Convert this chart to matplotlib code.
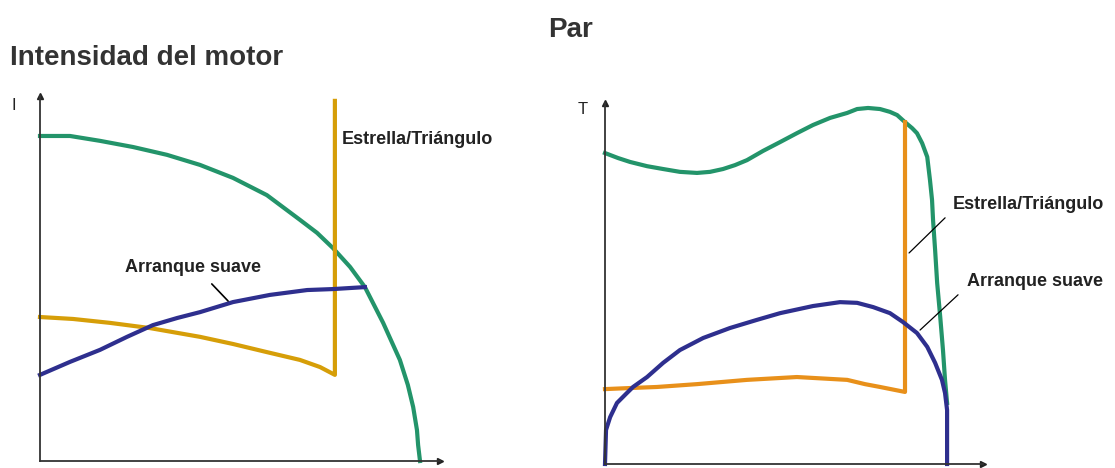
import matplotlib
matplotlib.use("Agg")
import matplotlib.pyplot as plt

# motor current (left), normalised speed / current
i_green_x = [0, 0.079, 0.158, 0.245, 0.334, 0.421, 0.508, 0.597, 0.684, 0.729, 0.771, 0.816, 0.855,
             0.903, 0.947, 0.968, 0.982, 0.992, 0.995, 1.0]
i_green_y = [1.0, 1.0, 0.985, 0.966, 0.942, 0.911, 0.871, 0.818, 0.742, 0.702, 0.655, 0.597, 0.535,
             0.425, 0.311, 0.234, 0.166, 0.095, 0.049, 0.0]
i_soft_x = [0, 0.079, 0.158, 0.229, 0.297, 0.361, 0.421, 0.508, 0.605, 0.703, 0.771, 0.855]
i_soft_y = [0.265, 0.305, 0.342, 0.382, 0.418, 0.440, 0.458, 0.489, 0.511, 0.526, 0.529, 0.535]
i_sd_x = [0, 0.087, 0.184, 0.289, 0.421, 0.508, 0.597, 0.684, 0.737, 0.776, 0.776]
i_sd_y = [0.443, 0.437, 0.425, 0.409, 0.382, 0.360, 0.335, 0.311, 0.289, 0.265, 1.108]

# torque (right)
t_green_x = [0, 0.038, 0.073, 0.123, 0.170, 0.219, 0.269, 0.307, 0.345, 0.380, 0.415, 0.462, 0.512,
             0.561, 0.608, 0.658, 0.708, 0.737, 0.769, 0.804, 0.833, 0.854, 0.877, 0.898, 0.912,
             0.927, 0.942, 0.950, 0.956, 0.959, 0.965, 0.971, 0.980, 0.988, 0.994, 1.0]
t_green_y = [0.876, 0.862, 0.851, 0.839, 0.831, 0.823, 0.820, 0.823, 0.831, 0.842, 0.856, 0.882, 0.907,
             0.932, 0.955, 0.975, 0.989, 1.0, 1.003, 1.0, 0.992, 0.983, 0.963, 0.946, 0.932,
             0.904, 0.865, 0.800, 0.744, 0.687, 0.603, 0.510, 0.414, 0.321, 0.237, 0.172]
t_soft_x = [0, 0.003, 0.015, 0.035, 0.064, 0.082, 0.123, 0.170, 0.219, 0.287, 0.365, 0.444, 0.512,
            0.608, 0.687, 0.737, 0.784, 0.833, 0.871, 0.912, 0.942, 0.965, 0.985, 0.994, 1.0, 1.0]
t_soft_y = [0, 0.096, 0.132, 0.172, 0.200, 0.217, 0.245, 0.285, 0.321, 0.355, 0.383, 0.406, 0.425,
            0.445, 0.456, 0.454, 0.442, 0.425, 0.400, 0.369, 0.330, 0.285, 0.237, 0.200, 0.152, 0]
t_sd_x = [0, 0.073, 0.152, 0.269, 0.415, 0.561, 0.708, 0.760, 0.804, 0.877, 0.877]
t_sd_y = [0.211, 0.214, 0.217, 0.225, 0.237, 0.245, 0.237, 0.225, 0.217, 0.203, 0.963]

green = '#23946a'
blue = '#2e2f8e'
gold = '#d69e08'
orange = '#e8901a'
txt = '#222222'

fig = plt.figure(figsize=(11.15, 4.68), dpi=100)
ax1 = fig.add_axes([40/1115, 7/468, 400/1115, 365/468])
ax2 = fig.add_axes([605/1115, 4/468, 378/1115, 361/468])
ax1.set_xlim(0, 1.0526)
ax1.set_ylim(0, 1.123)
ax2.set_xlim(0, 1.105)
ax2.set_ylim(0, 1.017)

for ax in (ax1, ax2):
    for s in ['top', 'right']:
        ax.spines[s].set_visible(False)
    for s in ['left', 'bottom']:
        ax.spines[s].set_color('#333333')
        ax.spines[s].set_linewidth(1.3)
    ax.set_xticks([])
    ax.set_yticks([])
    ax.patch.set_alpha(0)
    ax.plot(1, 0, '>', color='#222222', ms=5, transform=ax.transAxes, clip_on=False)
    ax.plot(0, 1, '^', color='#222222', ms=5, transform=ax.transAxes, clip_on=False)

lw = 3
ax1.plot(i_green_x, i_green_y, color=green, lw=lw, clip_on=False)
ax1.plot(i_sd_x, i_sd_y, color=gold, lw=lw, clip_on=False)
ax1.plot(i_soft_x, i_soft_y, color=blue, lw=lw, clip_on=False)

ax2.plot(t_green_x, t_green_y, color=green, lw=lw, clip_on=False)
ax2.plot(t_sd_x, t_sd_y, color=orange, lw=lw, clip_on=False)
ax2.plot(t_soft_x, t_soft_y, color=blue, lw=lw, clip_on=False)

# labels
kw = dict(family='Liberation Sans', fontweight='bold', fontsize=13, color=txt, va='center')
ax1.text(0.795, 0.988, 'Estrella/Triángulo', ha='left', **kw)
ax1.text(0.403, 0.594, 'Arranque suave', ha='center', **kw)
ax1.annotate('', xy=(0.5, 0.486), xytext=(0.447, 0.551),
             arrowprops=dict(arrowstyle='-', color='black', lw=1.2))

ax2.text(1.018, 0.730, 'Estrella/Triángulo', ha='left', **kw)
ax2.text(1.058, 0.513, 'Arranque suave', ha='left', **kw)
ax2.annotate('', xy=(0.883, 0.589), xytext=(1.0, 0.699),
             arrowprops=dict(arrowstyle='-', color='black', lw=0.9))
ax2.annotate('', xy=(0.915, 0.372), xytext=(1.038, 0.482),
             arrowprops=dict(arrowstyle='-', color='black', lw=0.9))

fig.text(14/1115, 1 - 105/468, 'I', fontsize=12, color=txt, ha='center', va='center',
         family='Liberation Sans')
fig.text(583/1115, 1 - 110/468, 'T', fontsize=12, color=txt, ha='center', va='center',
         family='Liberation Sans')

fig.text(10/1115, 1 - 65/468, 'Intensidad del motor', fontsize=20, fontweight='bold',
         color='#333333', family='Liberation Sans', va='baseline')
fig.text(571/1115, 1 - 37/468, 'Par', fontsize=20, fontweight='bold',
         color='#333333', family='Liberation Sans', ha='center', va='baseline')

fig.savefig('out.png', dpi=100)
